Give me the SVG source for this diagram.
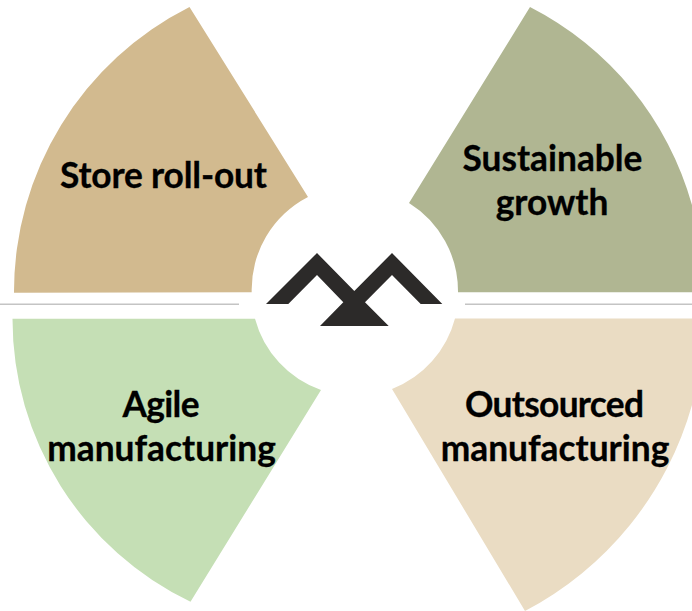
<svg xmlns="http://www.w3.org/2000/svg" width="692" height="611" viewBox="0 0 692 611">
<style>
.label{font-family:"Lato","Liberation Sans",sans-serif;font-weight:700;font-size:35.3px;fill:#000;stroke:#000;stroke-width:.3;text-anchor:middle}
.divider{stroke:#c4c4c4;stroke-width:1.5;fill:none}
</style>
<rect width="692" height="611" fill="#fff"/>
<g id="dividers">
<path class="divider" d="M0 304.3H239M465 304.3H692"/>
</g>
<g id="store-rollout">
<path fill="#D2BA8F" d="M14 292.7A318.7 318.7 0 0 1 189.5 7L308 197A104 104 0 0 0 251.7 292.3Z"/>
<text class="label" x="163.5" y="187.5" textLength="207">Store roll-out</text>
</g>
<g id="sustainable-growth">
<path fill="#B0B692" d="M530 7A319 319 0 0 1 692 205V292.3H458A104 104 0 0 0 409 203Z"/>
<text class="label" x="552.5" y="171">Sustainable</text>
<text class="label" x="552" y="215">growth</text>
</g>
<g id="agile-manufacturing">
<path fill="#C5DFB5" d="M12.5 318.7H255A104 104 0 0 0 321 390L190.5 601.7A313.5 313.5 0 0 1 12.5 318.7Z"/>
<text class="label" x="161" y="417" textLength="77">Agile</text>
<text class="label" x="161.5" y="461">manufacturing</text>
</g>
<g id="outsourced-manufacturing">
<path fill="#EADCC3" d="M455 318.5H692V405A335 335 0 0 1 525 611L392 389A104 104 0 0 0 455 318.5Z"/>
<text class="label" x="554.5" y="417" textLength="179">Outsourced</text>
<text class="label" x="555" y="461">manufacturing</text>
</g>
<g id="logo">
<path fill="#2C2A29" d="M317 253L354.3 291L392 253L442.3 304H420.7L392 275L365 302.3L388.7 326H320L343.3 302.3L317 275L288.3 304H266Z"/>
</g>
</svg>
